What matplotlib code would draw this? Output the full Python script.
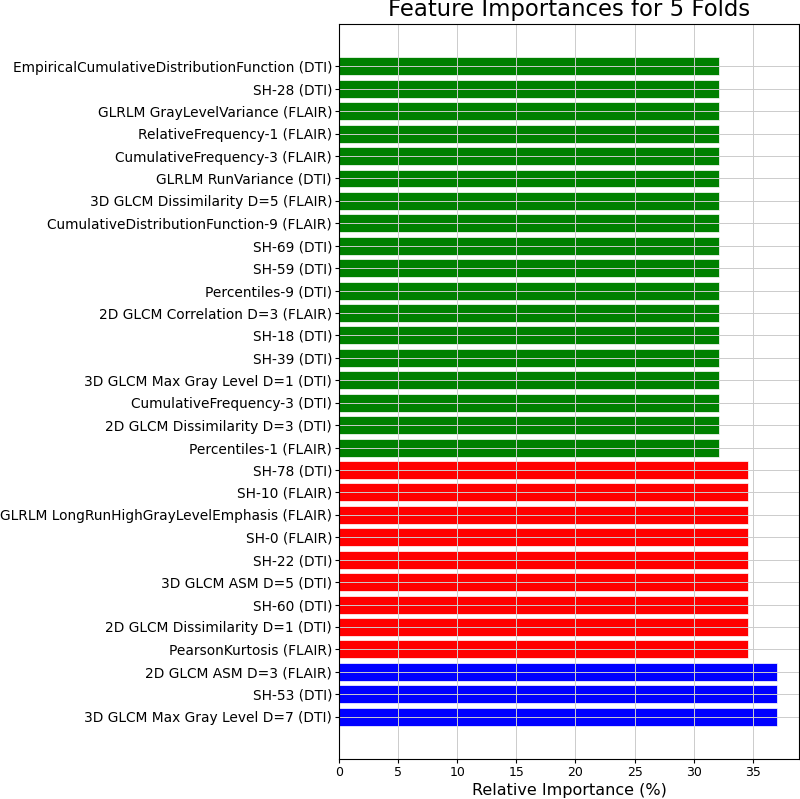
import numpy as np
import matplotlib
matplotlib.use('Agg')
import matplotlib.pyplot as plt

# features listed from bottom bar to top bar
features = [
    '3D GLCM Max Gray Level D=7 (DTI)',
    'SH-53 (DTI)',
    '2D GLCM ASM D=3 (FLAIR)',
    'PearsonKurtosis (FLAIR)',
    '2D GLCM Dissimilarity D=1 (DTI)',
    'SH-60 (DTI)',
    '3D GLCM ASM D=5 (DTI)',
    'SH-22 (DTI)',
    'SH-0 (FLAIR)',
    'GLRLM LongRunHighGrayLevelEmphasis (FLAIR)',
    'SH-10 (FLAIR)',
    'SH-78 (DTI)',
    'Percentiles-1 (FLAIR)',
    '2D GLCM Dissimilarity D=3 (DTI)',
    'CumulativeFrequency-3 (DTI)',
    '3D GLCM Max Gray Level D=1 (DTI)',
    'SH-39 (DTI)',
    'SH-18 (DTI)',
    '2D GLCM Correlation D=3 (FLAIR)',
    'Percentiles-9 (DTI)',
    'SH-59 (DTI)',
    'SH-69 (DTI)',
    'CumulativeDistributionFunction-9 (FLAIR)',
    '3D GLCM Dissimilarity D=5 (FLAIR)',
    'GLRLM RunVariance (DTI)',
    'CumulativeFrequency-3 (FLAIR)',
    'RelativeFrequency-1 (FLAIR)',
    'GLRLM GrayLevelVariance (FLAIR)',
    'SH-28 (DTI)',
    'EmpiricalCumulativeDistributionFunction (DTI)',
]
importance = [37.05] * 3 + [34.55] * 9 + [32.12] * 18
colors = ['blue'] * 3 + ['red'] * 9 + ['green'] * 18

fig = plt.figure(figsize=(8, 7.99), dpi=100)
ax = fig.add_axes([0.42375, 0.05, 0.575, 0.92])

y = np.arange(len(features))
ax.barh(y, importance, color=colors, edgecolor='white', linewidth=0.5)
ax.set_yticks(y)
ax.set_yticklabels(features, fontsize=9.9)
ax.tick_params(axis='x', labelsize=9, length=2.8, pad=2.5)
ax.tick_params(axis='y', length=2.8, pad=2.2)
ax.set_xlabel('Relative Importance (%)', fontsize=11.5, labelpad=2.5)
ax.set_title('Feature Importances for 5 Folds', fontsize=16.4, pad=5.5)
ax.grid(True, color='#cccccc', linewidth=0.7)

fig.savefig('out.png', dpi=100)
